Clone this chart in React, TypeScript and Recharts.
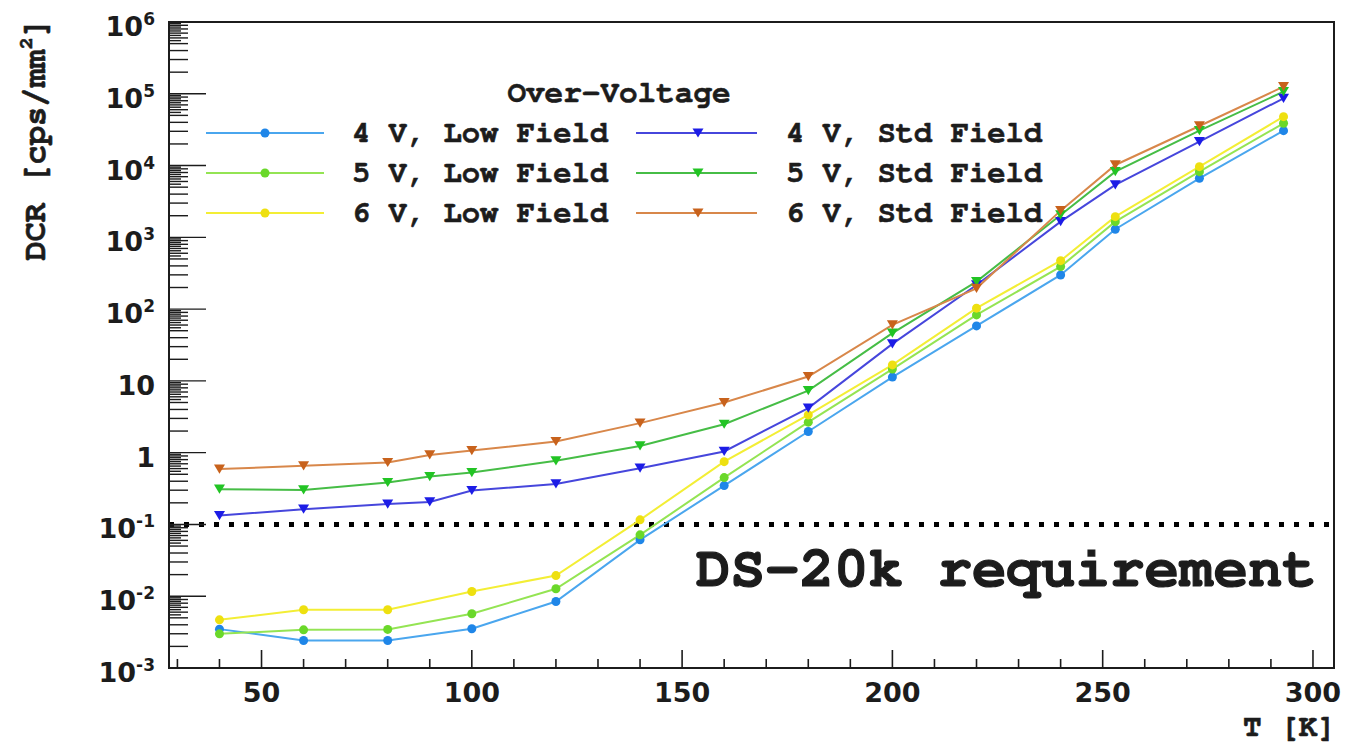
import React from 'react';
import { LineChart, Line, XAxis, YAxis, ReferenceLine, ReferenceArea, Legend, Label } from 'recharts';

// ---- Data (T in K, DCR in cps/mm^2) ----
const tempsLow = [40, 60, 80, 100, 120, 140, 160, 180, 200, 220, 240, 253, 273, 293];
const tempsStd = [40, 60, 80, 90, 100, 120, 140, 160, 180, 200, 220, 240, 253, 273, 293];

const dcr4VLow = [0.00348, 0.00242, 0.00242, 0.00352, 0.00843, 0.061, 0.348, 1.97, 11.3, 58.3, 299, 1297, 6650, 30600];
const dcr5VLow = [0.00299, 0.0034, 0.00345, 0.00569, 0.0127, 0.0716, 0.45, 2.66, 14.6, 83, 391, 1655, 8220, 38800];
const dcr6VLow = [0.00469, 0.00647, 0.00647, 0.01164, 0.0194, 0.116, 0.75, 3.36, 16.7, 103, 473, 1940, 9660, 48000];
const dcr4VStd = [0.133, 0.163, 0.192, 0.206, 0.297, 0.367, 0.608, 1.04, 4.17, 32.8, 217, 1655, 5370, 21500, 86500];
const dcr5VStd = [0.31, 0.303, 0.384, 0.465, 0.528, 0.77, 1.24, 2.49, 7.33, 46.2, 242, 2050, 8220, 30600, 107000];
const dcr6VStd = [0.59, 0.655, 0.73, 0.93, 1.07, 1.43, 2.58, 4.99, 11.5, 60.2, 195, 2355, 10190, 35600, 125600];

const seriesNames = ['4 V, Low Field', '5 V, Low Field', '6 V, Low Field', '4 V, Std Field', '5 V, Std Field', '6 V, Std Field'];
const lineColors = ['#4aa6ee', '#94e453', '#f3ee35', '#4646dc', '#46bd46', '#d8874a'];
const markerColors = ['#1f86e8', '#6ad82a', '#eee010', '#1c1ce6', '#22c424', '#c8621c'];
const markerShapes = ['circle', 'circle', 'circle', 'triangle', 'triangle', 'triangle'];
const seriesTemps = [tempsLow, tempsLow, tempsLow, tempsStd, tempsStd, tempsStd];
const seriesValues = [dcr4VLow, dcr5VLow, dcr6VLow, dcr4VStd, dcr5VStd, dcr6VStd];

const legendTitle = 'Over-Voltage';
const requirementValue = 0.1;
const requirementText = 'DS-20k requirement';

const xDomain = [28, 305];
const xTicks = [30, 40, 50, 60, 70, 80, 90, 100, 110, 120, 130, 140, 150, 160, 170, 180, 190, 200, 210, 220, 230, 240, 250, 260, 270, 280, 290, 300];
const xTickLabels = ['50', '100', '150', '200', '250', '300'];
const xTitle = 'T [K]';

const yDomain = [1e-3, 1e6];
const yExponents = [-3, -2, -1, 0, 1, 2, 3, 4, 5, 6];
const yTickBases = ['10', '10', '10', '1', '10', '10', '10', '10', '10', '10'];
const yTickExps = ['-3', '-2', '-1', '', '', '2', '3', '4', '5', '6'];
const yMinorMantissas = [2, 3, 4, 5, 5.5, 6, 6.5, 7, 7.5, 8, 8.5, 9, 9.5];
const yTitleMain = 'DCR [cps/mm';
const yTitleSup = '2';
const yTitleEnd = ']';

// ---- derived ----
const series = seriesNames.map((name, i) => ({
  name,
  line: lineColors[i],
  marker: markerColors[i],
  shape: markerShapes[i],
  points: seriesTemps[i].map((T, j) => ({ T, v: seriesValues[i][j] })),
}));

const yTicks: number[] = [];
yExponents.forEach((e) => {
  yTicks.push(Math.pow(10, e));
  if (e < yExponents[yExponents.length - 1]) {
    yMinorMantissas.forEach((m) => yTicks.push(m * Math.pow(10, e)));
  }
});

const MONO = "'Nimbus Mono PS', 'FreeMono', 'Courier New', 'Liberation Mono', monospace";
const SANS = "'DejaVu Sans', 'Liberation Sans', sans-serif";
const INK = '#1c1c1c';

const XTick = (props: any) => {
  const { x, y, payload } = props;
  const v = payload.value;
  const major = v % 50 === 0;
  const idx = xTickLabels.indexOf(String(v));
  return (
    <g>
      <line x1={x} x2={x} y1={y} y2={y - (major ? 18 : 9)} stroke={INK} strokeWidth={1.6} />
      {major && idx >= 0 && (
        <text x={x} y={y + 34} textAnchor="middle" fontFamily={SANS} fontWeight="bold" fontSize={27} fill={INK}>
          {xTickLabels[idx]}
        </text>
      )}
    </g>
  );
};

const YTick = (props: any) => {
  const { x, y, payload } = props;
  const v = payload.value;
  const lg = Math.log10(v);
  const n = Math.round(lg);
  const major = Math.abs(lg - n) < 1e-6;
  const m = v / Math.pow(10, Math.floor(lg + 1e-9));
  const len = major ? 37 : Math.abs(m - Math.round(m)) < 1e-6 ? 19 : 12;
  const idx = yExponents.indexOf(n);
  return (
    <g>
      <line x1={x} x2={x + len} y1={y} y2={y} stroke={INK} strokeWidth={1.4} />
      {major && idx >= 0 && (
        <text x={x - 14} y={y + 14} textAnchor="end" fontFamily={SANS} fontWeight="bold" fontSize={27} fill={INK}>
          <tspan>{yTickBases[idx]}</tspan>
          {yTickExps[idx] !== '' && (
            <tspan dy={-11} fontSize={17}>{yTickExps[idx]}</tspan>
          )}
        </text>
      )}
    </g>
  );
};

const YTitle = (props: any) => {
  const vb = props.viewBox || { x: 0, y: 22 };
  const cx = vb.x + 45;
  const cy = vb.y - 4;
  return (
    <text transform={`rotate(-90, ${cx}, ${cy})`} x={cx} y={cy} textAnchor="end" fontFamily={MONO} fontWeight="bold" fontSize={32} fill={INK} stroke={INK} strokeWidth={0.6}>
      <tspan>{yTitleMain}</tspan>
      <tspan dy={-13} fontSize={20}>{yTitleSup}</tspan>
      <tspan dy={13}>{yTitleEnd}</tspan>
    </text>
  );
};

const XTitle = (props: any) => {
  const vb = props.viewBox || { x: 169, y: 668, width: 1165 };
  return (
    <text x={vb.x + vb.width + 2} y={vb.y + 68} textAnchor="end" fontFamily={MONO} fontWeight="bold" fontSize={31} fill={INK} stroke={INK} strokeWidth={0.6}>
      {xTitle}
    </text>
  );
};

const ReqLabel = (props: any) => {
  const vb = props.viewBox || { x: 169, y: 525, width: 1165 };
  return (
    <text x={vb.x + vb.width - 17} y={vb.y + 62} textAnchor="end" fontFamily={MONO} fontWeight="bold" fontSize={57.5} fill={INK} stroke={INK} strokeWidth={1.2}>
      {requirementText}
    </text>
  );
};

const Marker = ({ cx, cy, shape, color, size = 1 }: any) => {
  if (cx == null || cy == null) return null;
  if (shape === 'circle') {
    return <circle cx={cx} cy={cy} r={4.5 * size} fill={color} />;
  }
  const w = 5.5 * size;
  const h = 4.6 * size;
  return <polygon points={`${cx - w},${cy - h} ${cx + w},${cy - h} ${cx},${cy + h}`} fill={color} />;
};

const renderLegend = (props: any) => {
  const payload = props.payload || [];
  return (
    <svg width={880} height={170} style={{ display: 'block', overflow: 'visible' }}>
      <text x={419} y={27} textAnchor="middle" fontFamily={MONO} fontWeight="bold" fontSize={31} fill={INK} stroke={INK} strokeWidth={0.6}>
        {legendTitle}
      </text>
      {payload.map((p: any) => {
        const idx = seriesNames.indexOf(p.value);
        if (idx < 0) return null;
        const s = series[idx];
        const col = idx < 3 ? 0 : 1;
        const row = idx % 3;
        const cy = 58 + row * 40;
        const lx1 = col === 0 ? 6 : 436;
        const lx2 = col === 0 ? 124 : 557;
        const mx = col === 0 ? 65 : 498;
        const tx = col === 0 ? 152 : 586;
        return (
          <g key={p.value}>
            <line x1={lx1} x2={lx2} y1={cy} y2={cy} stroke={s.line} strokeWidth={2.2} />
            <Marker cx={mx} cy={cy} shape={s.shape} color={s.marker} />
            <text x={tx} y={cy + 9} fontFamily={MONO} fontWeight="bold" fontSize={30.5} fill={INK} stroke={INK} strokeWidth={0.6}>
              {p.value}
            </text>
          </g>
        );
      })}
    </svg>
  );
};

export default function App() {
  return (
    <div style={{ position: 'absolute', left: 0, top: 0, width: 1345, height: 746, background: '#ffffff' }}>
      <LineChart width={1345} height={746} margin={{ top: 22, right: 11, bottom: 0, left: 0 }}>
        <XAxis
          type="number"
          dataKey="T"
          domain={xDomain}
          ticks={xTicks}
          interval={0}
          allowDataOverflow
          tick={<XTick />}
          tickLine={false}
          tickSize={0}
          tickMargin={0}
          axisLine={{ stroke: INK, strokeWidth: 2 }}
          height={78}
        >
          <Label content={<XTitle />} />
        </XAxis>
        <YAxis
          type="number"
          scale="log"
          domain={yDomain}
          ticks={yTicks}
          interval={0}
          allowDataOverflow
          tick={<YTick />}
          tickLine={false}
          tickSize={0}
          tickMargin={0}
          axisLine={{ stroke: INK, strokeWidth: 2 }}
          width={169}
        >
          <Label content={<YTitle />} />
        </YAxis>
        <ReferenceArea
          x1={xDomain[0]}
          x2={xDomain[1]}
          y1={yDomain[0]}
          y2={yDomain[1]}
          fill="none"
          fillOpacity={0}
          stroke={INK}
          strokeWidth={2}
          ifOverflow="visible"
        />
        <ReferenceLine
          y={requirementValue}
          stroke="#000"
          strokeWidth={5}
          strokeDasharray="5 10"
          label={<ReqLabel />}
        />
        {series.map((s) => (
          <Line
            key={s.name}
            data={s.points}
            dataKey="v"
            name={s.name}
            type="linear"
            stroke={s.line}
            strokeWidth={2}
            isAnimationActive={false}
            activeDot={false}
            dot={(p: any) => (
              <Marker key={`${s.name}-${p.index}`} cx={p.cx} cy={p.cy} shape={s.shape} color={s.marker} />
            )}
          />
        ))}
        <Legend
          layout="vertical"
          align="center"
          verticalAlign="middle"
          content={renderLegend}
          wrapperStyle={{ left: 200, top: 75, width: 880, height: 170 }}
        />
      </LineChart>
    </div>
  );
}
